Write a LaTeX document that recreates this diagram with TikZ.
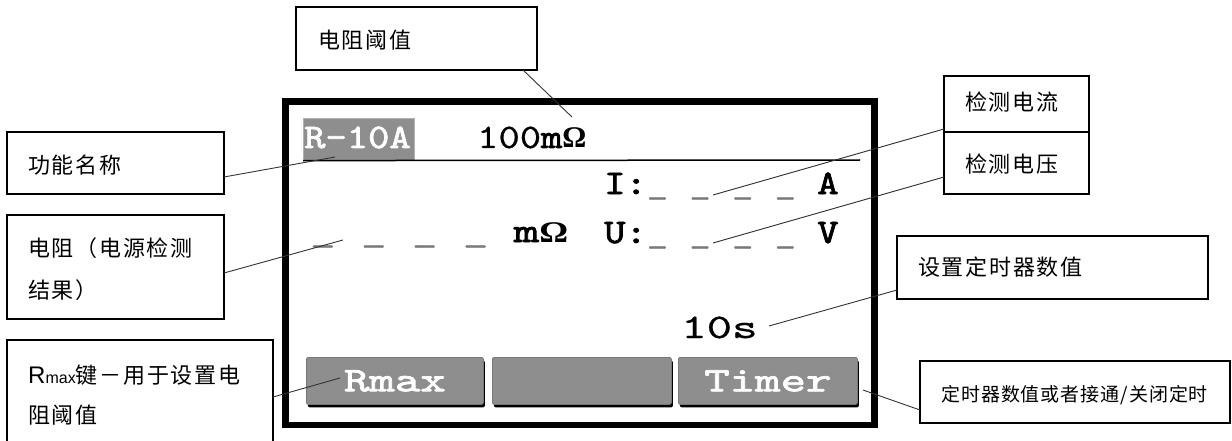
\documentclass[tikz,border=0pt]{standalone}
\usepackage{fontspec}
\newfontfamily\cjk[LetterSpace=8]{Noto Sans CJK SC}
\newfontfamily\cjksm[LetterSpace=5]{Noto Sans CJK SC}
\newfontfamily\lat{Liberation Sans}
\newfontfamily\serifo{Liberation Serif}
\newfontfamily\lcdnf[FakeStretch=1.18,FakeBold=0.8]{lmmono10-regular.otf}
\newfontfamily\lcdbf[FakeStretch=1.18,FakeBold=2.2]{lmmono10-regular.otf}
\newfontfamily\lcdwnf[FakeStretch=1.41,FakeBold=0.8]{lmmono10-regular.otf}
\newfontfamily\lcdwbf[FakeStretch=1.41,FakeBold=2.2]{lmmono10-regular.otf}
\newfontfamily\serifw[FakeStretch=1.2]{Liberation Serif}
\definecolor{lcdgray}{HTML}{8E8E8E}
\definecolor{btnedge}{HTML}{777777}
\definecolor{dashgray}{HTML}{7A7A7A}
\newcommand{\lcdsize}{\fontsize{34.4}{36}\selectfont}
\newcommand{\lcdn}{\lcdnf\lcdsize}
\newcommand{\lcdb}{\lcdbf\lcdsize}
\newcommand{\lcdwn}{\lcdwnf\lcdsize}
\newcommand{\lcdwb}{\lcdwbf\lcdsize}
\newcommand{\omg}{{\serifo\bfseries\fontsize{30}{30}\selectfont Ω}}
\newcommand{\omgw}{{\serifw\bfseries\fontsize{30}{30}\selectfont Ω}}
\begin{document}
\begin{tikzpicture}[x=1pt,y=-1pt,
  cbox/.style={draw=black, line width=1.6pt, inner sep=0pt, outer sep=0pt, fill=white, anchor=north west},
  ctxt/.style={font=\cjk\fontsize{22}{26}\selectfont, inner sep=0pt, anchor=west},
  lcdtxt/.style={inner sep=0pt, anchor=base west, font=\lcdn},
  conn/.style={draw=black!80, line width=0.9pt},
  btn/.style={fill=lcdgray, draw=btnedge, line width=0.8pt, rounded corners=2pt,
    preaction={fill=black, transform canvas={xshift=1.5pt, yshift=-3pt}},
    text=white, font=\lcdwb, inner sep=0pt, anchor=north west,
    minimum width=177pt, minimum height=47pt}]
\useasboundingbox (0,0) rectangle (1232,441);
\clip (0,0) rectangle (1232,441);

% LCD frame
\draw[line width=6.5pt] (285.5,101.5) rectangle (874.5,425);

% function name box
\node[fill=lcdgray, draw=gray!60, line width=0.6pt, inner sep=0pt, anchor=north west,
      minimum width=111pt, minimum height=42pt] (fbox) at (303,118) {};
\node[lcdtxt, text=white, font=\lcdb] (fname) at (304,148) {R-10A};
\node[lcdtxt] (thv) at (477,148) {100{\lcdb m}\omg};
\coordinate (hl) at (860,160);
\draw[line width=1.5pt] (fbox.south west) -- (hl);

% measurement rows
\node[lcdtxt] (irow) at (604,194) {{\lcdb I:}\textcolor{dashgray}{\_ \_ \_ \_} {\lcdb A}};
\node[lcdtxt] (urow) at (604,243) {{\lcdb U:}\textcolor{dashgray}{\_ \_ \_ \_} {\lcdb V}};
\node[lcdtxt, font=\lcdwn] (rrow) at (310,242) {\textcolor{dashgray}{\_ \_ \_ \_} {\lcdwb m}\omgw};
\node[lcdtxt, font=\lcdwn] (tval) at (681,338) {10s};

% soft keys
\node[btn] (bR) at (306,357) {Rmax};
\node[btn, minimum width=179pt] (bM) at (492,357) {};
\node[btn, minimum width=179pt] (bT) at (678,357) {Timer};

% callout boxes
\node[cbox, minimum width=241pt, minimum height=63pt] (thr) at (296,7) {};
\node[ctxt] (thrt) at (318,40) {电阻阈值};

\node[cbox, minimum width=217pt, minimum height=62pt] (fn) at (7,132) {};
\node[ctxt] (fnt) at (28,165) {功能名称};

\node[cbox, minimum width=217pt, minimum height=104pt] (res) at (7,215) {};
\node[ctxt] (rest1) at (28,248) {电阻（电源检测};
\node[ctxt] (rest2) at (28,290) {结果）};

\node[cbox, minimum width=266pt, minimum height=120pt] (rmx) at (7,340) {};
\node[ctxt] (rmxt1) at (28,375) {{\lat\fontsize{24}{24}\selectfont R{\fontsize{16}{16}\selectfont max}}键－用于设置电};
\node[ctxt] (rmxt2) at (28,415) {阻阈值};

\node[cbox, minimum width=145pt, minimum height=56pt] (cur) at (944,76) {};
\node[ctxt] (curt) at (965,102) {检测电流};

\node[cbox, minimum width=145pt, minimum height=62pt] (vol) at (944,132) {};
\node[ctxt] (volt) at (965,164) {检测电压};

\node[cbox, minimum width=311pt, minimum height=63pt] (tmr) at (897,236) {};
\node[ctxt] (tmrt) at (918,267) {设置定时器数值};

\node[cbox, minimum width=310pt, minimum height=62pt] (tog) at (920,361) {};
\node[ctxt, font=\cjksm\fontsize{19}{22}\selectfont] (togt) at (941,395) {定时器数值或者接通/关闭定时};

% connector end points
\coordinate (pThr) at (572,117);
\coordinate (pFn) at (335,157);
\coordinate (pRes) at (343,240);
\coordinate (pRmax) at (340,378);
\coordinate (pCur) at (713,195);
\coordinate (pVol) at (713,243);
\coordinate (pTmr) at (769,326);
\coordinate (pTog) at (863,390);

% connectors
\draw[conn] ([xshift=106.5pt]thr.south) -- (pThr);
\draw[conn] ([yshift=-14pt]fn.east) -- (pFn);
\draw[conn] ([yshift=-6pt]res.east) -- (pRes);
\draw[conn] ([yshift=3pt]rmx.east) -- (pRmax);
\draw[conn] ([yshift=-25pt]cur.west) -- (pCur);
\draw[conn] ([yshift=-14pt]vol.west) -- (pVol);
\draw[conn] ([yshift=-22.5pt]tmr.west) -- (pTmr);
\draw[conn] ([yshift=-18pt]tog.west) -- (pTog);
\end{tikzpicture}
\end{document}
